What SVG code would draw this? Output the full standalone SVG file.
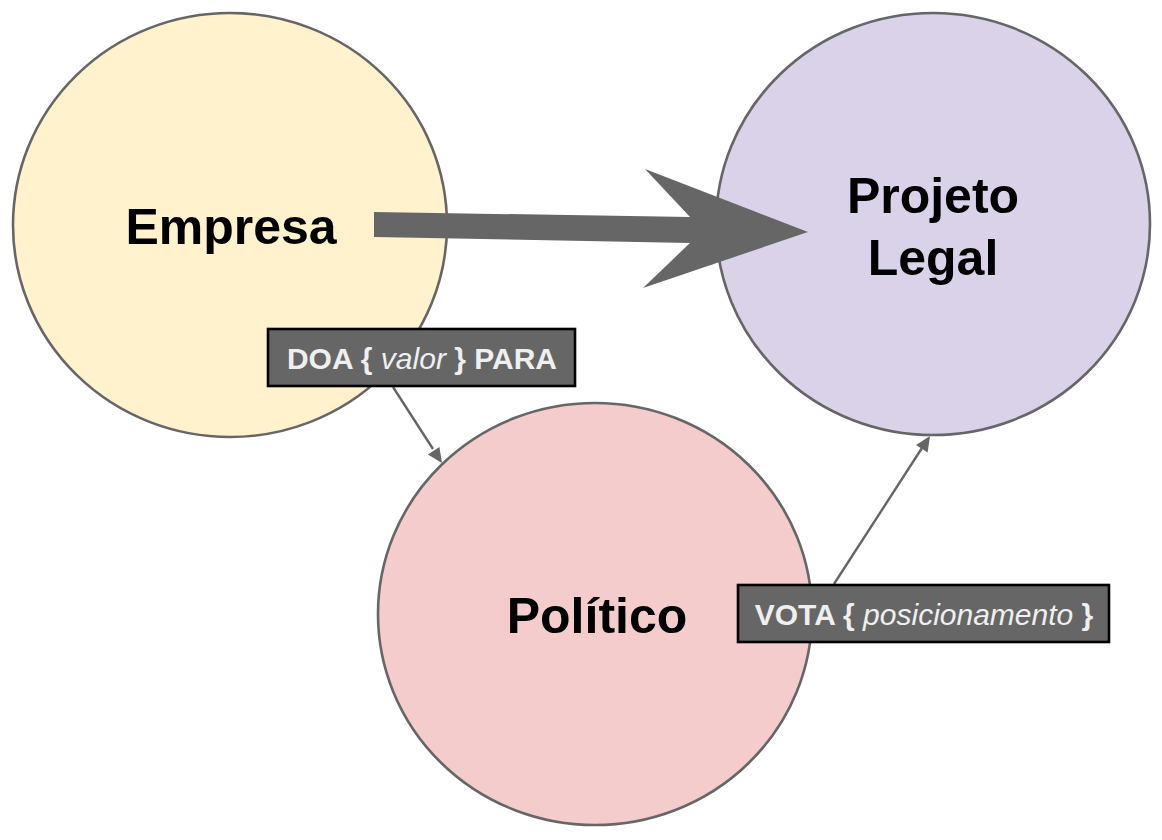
<svg xmlns="http://www.w3.org/2000/svg" width="1162" height="840" viewBox="0 0 1162 840">
  <style>
    .node { stroke: #666666; stroke-width: 2.6; }
    .title { font-family: "Liberation Sans", Arial, sans-serif; font-weight: bold; font-size: 50px; fill: #000000; text-anchor: middle; }
    .lbox { fill: #666666; stroke: #000000; stroke-width: 2.6; }
    .ltext { font-family: "Liberation Sans", Arial, sans-serif; font-size: 30px; fill: #efefef; text-anchor: middle; }
    .b { font-weight: bold; }
    .i { font-style: italic; }
    .conn { stroke: #666666; stroke-width: 2.4; fill: none; }
    .head { fill: #666666; }
  </style>
  <rect width="1162" height="840" fill="#ffffff"/>

  <g id="node-empresa">
    <ellipse class="node" cx="230" cy="225" rx="217" ry="212" fill="#fff2cc"/>
    <text class="title" x="231" y="244">Empresa</text>
  </g>
  <g id="node-projeto">
    <ellipse class="node" cx="933" cy="224" rx="217" ry="211" fill="#d9d2e9"/>
    <text class="title" x="933" y="213">Projeto</text>
    <text class="title" x="933" y="275">Legal</text>
  </g>
  <g id="node-politico">
    <ellipse class="node" cx="595" cy="614" rx="217" ry="211" fill="#f4cccc"/>
    <text class="title" x="597" y="633">Político</text>
  </g>

  <g id="connectors">
    <polygon class="head" points="374,212 690,217 645,169 808,232 643,288 690,243 374,237"/>
    <line class="conn" x1="393" y1="387" x2="433" y2="449"/>
    <polygon class="head" points="442,463 427.8,454.4 439.4,446.9"/>
    <line class="conn" x1="834" y1="584" x2="922" y2="448"/>
    <polygon class="head" points="930,436 927.6,452.6 916,445.1"/>
  </g>

  <g id="label-doa">
    <rect class="lbox" x="268" y="329" width="307" height="57"/>
    <text class="ltext" x="422" y="369"><tspan class="b">DOA {</tspan> <tspan class="i">valor</tspan> <tspan class="b">} PARA</tspan></text>
  </g>
  <g id="label-vota">
    <rect class="lbox" x="738" y="585" width="371" height="57"/>
    <text class="ltext" x="924" y="625"><tspan class="b">VOTA {</tspan> <tspan class="i">posicionamento</tspan> <tspan class="b">}</tspan></text>
  </g>
</svg>
